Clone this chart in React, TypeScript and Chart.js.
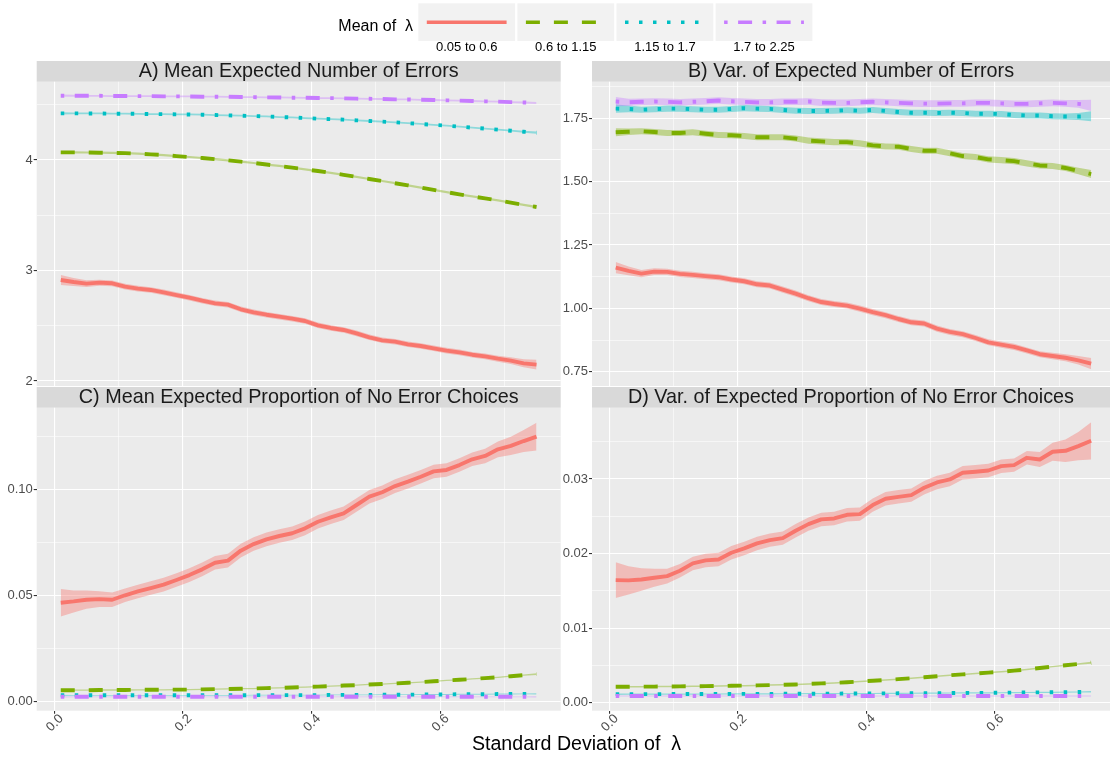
import React, { useEffect, useRef } from "react";
import { Chart, registerables } from "chart.js";

Chart.register(...registerables);

// ---------------- data ----------------
const xSD = [0.01, 0.03, 0.05, 0.07, 0.09, 0.11, 0.13, 0.15, 0.17, 0.19, 0.21, 0.23, 0.25, 0.27, 0.29, 0.31, 0.33, 0.35, 0.37, 0.39, 0.41, 0.43, 0.45, 0.47, 0.49, 0.51, 0.53, 0.55, 0.57, 0.59, 0.61, 0.63, 0.65, 0.67, 0.69, 0.71, 0.73, 0.75];

const groupLabels = ["0.05 to 0.6", "0.6 to 1.15", "1.15 to 1.7", "1.7 to 2.25"];
const legendTitle = "Mean of  λ";
const xAxisTitle = "Standard Deviation of  λ";

const xMajorTicks = [0, 0.2, 0.4, 0.6];
const xMinorTicks = [0.1, 0.3, 0.5, 0.7];
const xTickLabels = ["0.0", "0.2", "0.4", "0.6"];

// A) Mean Expected Number of Errors
const aRed = [2.914, 2.896, 2.881, 2.890, 2.884, 2.854, 2.836, 2.824, 2.802, 2.778, 2.754, 2.727, 2.703, 2.691, 2.649, 2.621, 2.600, 2.582, 2.564, 2.543, 2.504, 2.480, 2.462, 2.431, 2.395, 2.368, 2.356, 2.332, 2.317, 2.296, 2.275, 2.259, 2.238, 2.223, 2.202, 2.184, 2.160, 2.148];
const aGreen = [4.069, 4.069, 4.068, 4.066, 4.065, 4.062, 4.057, 4.051, 4.045, 4.035, 4.027, 4.018, 4.008, 3.997, 3.985, 3.973, 3.959, 3.946, 3.931, 3.916, 3.900, 3.884, 3.866, 3.848, 3.828, 3.810, 3.790, 3.771, 3.750, 3.729, 3.709, 3.689, 3.671, 3.653, 3.635, 3.614, 3.594, 3.575];
const aCyan = [4.422, 4.422, 4.421, 4.421, 4.419, 4.419, 4.418, 4.416, 4.415, 4.413, 4.412, 4.410, 4.407, 4.404, 4.401, 4.398, 4.394, 4.389, 4.385, 4.380, 4.374, 4.370, 4.365, 4.359, 4.353, 4.347, 4.341, 4.333, 4.326, 4.318, 4.311, 4.302, 4.293, 4.284, 4.275, 4.265, 4.256, 4.247];
const aPurple = [4.582, 4.582, 4.581, 4.581, 4.579, 4.579, 4.578, 4.578, 4.576, 4.576, 4.575, 4.573, 4.573, 4.572, 4.570, 4.569, 4.567, 4.566, 4.564, 4.563, 4.561, 4.560, 4.558, 4.555, 4.554, 4.552, 4.549, 4.548, 4.545, 4.543, 4.540, 4.537, 4.534, 4.531, 4.528, 4.524, 4.521, 4.516];
const aRedBand = [0.045, 0.036, 0.030, 0.027, 0.026, 0.025, 0.025, 0.025, 0.025, 0.025, 0.025, 0.025, 0.025, 0.025, 0.025, 0.025, 0.025, 0.025, 0.025, 0.025, 0.025, 0.025, 0.025, 0.025, 0.025, 0.025, 0.025, 0.025, 0.025, 0.025, 0.025, 0.025, 0.025, 0.026, 0.027, 0.030, 0.036, 0.045];
const aGreenBand = [0.012, 0.011, 0.010, 0.010, 0.010, 0.010, 0.010, 0.010, 0.010, 0.010, 0.010, 0.010, 0.010, 0.010, 0.010, 0.010, 0.010, 0.010, 0.010, 0.010, 0.010, 0.010, 0.010, 0.010, 0.010, 0.010, 0.010, 0.010, 0.010, 0.010, 0.010, 0.010, 0.010, 0.010, 0.010, 0.010, 0.011, 0.012];
const aCyanBand = [0.010, 0.009, 0.008, 0.008, 0.008, 0.008, 0.008, 0.008, 0.008, 0.008, 0.008, 0.008, 0.008, 0.008, 0.008, 0.008, 0.008, 0.008, 0.008, 0.008, 0.008, 0.008, 0.008, 0.008, 0.008, 0.008, 0.008, 0.008, 0.008, 0.008, 0.008, 0.008, 0.008, 0.008, 0.008, 0.008, 0.009, 0.010];
const aPurpleBand = [0.010, 0.009, 0.008, 0.008, 0.008, 0.008, 0.008, 0.008, 0.008, 0.008, 0.008, 0.008, 0.008, 0.008, 0.008, 0.008, 0.008, 0.008, 0.008, 0.008, 0.008, 0.008, 0.008, 0.008, 0.008, 0.008, 0.008, 0.008, 0.008, 0.008, 0.008, 0.008, 0.008, 0.008, 0.008, 0.008, 0.009, 0.010];
const aYMajor = [2, 3, 4];
const aYMinor = [2.5, 3.5, 4.5];
const aYLabels = ["2", "3", "4"];

// B) Var. of Expected Number of Errors
const bRed = [1.161, 1.148, 1.137, 1.145, 1.144, 1.136, 1.132, 1.127, 1.123, 1.114, 1.107, 1.095, 1.090, 1.074, 1.058, 1.040, 1.025, 1.017, 1.011, 0.999, 0.985, 0.973, 0.958, 0.945, 0.940, 0.920, 0.907, 0.898, 0.883, 0.866, 0.857, 0.848, 0.834, 0.819, 0.812, 0.805, 0.795, 0.782];
const bGreen = [1.695, 1.697, 1.699, 1.696, 1.692, 1.692, 1.695, 1.689, 1.684, 1.683, 1.680, 1.675, 1.675, 1.675, 1.670, 1.662, 1.659, 1.656, 1.656, 1.651, 1.643, 1.639, 1.638, 1.629, 1.622, 1.622, 1.612, 1.601, 1.597, 1.588, 1.585, 1.581, 1.572, 1.564, 1.562, 1.554, 1.542, 1.530];
const bCyan = [1.788, 1.787, 1.784, 1.786, 1.788, 1.788, 1.786, 1.784, 1.784, 1.787, 1.790, 1.788, 1.787, 1.783, 1.780, 1.779, 1.779, 1.780, 1.782, 1.780, 1.783, 1.779, 1.775, 1.772, 1.772, 1.771, 1.772, 1.771, 1.768, 1.768, 1.767, 1.763, 1.761, 1.761, 1.758, 1.757, 1.757, 1.758];
const bPurple = [1.816, 1.813, 1.815, 1.816, 1.815, 1.813, 1.815, 1.817, 1.820, 1.817, 1.815, 1.813, 1.813, 1.815, 1.815, 1.816, 1.812, 1.811, 1.811, 1.813, 1.815, 1.813, 1.811, 1.809, 1.808, 1.808, 1.809, 1.809, 1.811, 1.811, 1.809, 1.807, 1.807, 1.809, 1.811, 1.809, 1.807, 1.801];
const bRedBand = [0.022, 0.017, 0.014, 0.013, 0.012, 0.012, 0.012, 0.012, 0.012, 0.012, 0.012, 0.012, 0.012, 0.012, 0.012, 0.012, 0.012, 0.012, 0.012, 0.012, 0.012, 0.012, 0.012, 0.012, 0.012, 0.012, 0.012, 0.012, 0.012, 0.012, 0.012, 0.012, 0.012, 0.012, 0.013, 0.014, 0.017, 0.022];
const bGreenBand = [0.016, 0.013, 0.012, 0.012, 0.012, 0.012, 0.012, 0.012, 0.012, 0.012, 0.012, 0.012, 0.012, 0.012, 0.012, 0.012, 0.012, 0.012, 0.012, 0.012, 0.012, 0.012, 0.012, 0.012, 0.012, 0.012, 0.012, 0.012, 0.012, 0.012, 0.012, 0.012, 0.012, 0.012, 0.012, 0.012, 0.013, 0.016];
const bCyanBand = [0.016, 0.013, 0.012, 0.012, 0.012, 0.012, 0.012, 0.012, 0.012, 0.012, 0.012, 0.012, 0.012, 0.012, 0.012, 0.012, 0.012, 0.012, 0.012, 0.012, 0.012, 0.012, 0.012, 0.012, 0.012, 0.012, 0.012, 0.012, 0.012, 0.012, 0.012, 0.012, 0.012, 0.012, 0.012, 0.012, 0.014, 0.020];
const bPurpleBand = [0.018, 0.014, 0.013, 0.013, 0.013, 0.013, 0.013, 0.013, 0.013, 0.013, 0.013, 0.013, 0.013, 0.013, 0.013, 0.013, 0.013, 0.013, 0.013, 0.013, 0.013, 0.013, 0.013, 0.013, 0.013, 0.013, 0.013, 0.013, 0.013, 0.013, 0.013, 0.013, 0.013, 0.013, 0.013, 0.013, 0.015, 0.022];
const bYMajor = [0.75, 1.0, 1.25, 1.5, 1.75];
const bYMinor = [0.875, 1.125, 1.375, 1.625, 1.875];
const bYLabels = ["0.75", "1.00", "1.25", "1.50", "1.75"];

// C) Mean Expected Proportion of No Error Choices
const cRed = [0.0466, 0.0472, 0.0480, 0.0483, 0.0480, 0.0501, 0.0519, 0.0535, 0.0551, 0.0573, 0.0596, 0.0623, 0.0654, 0.0664, 0.0711, 0.0742, 0.0764, 0.0780, 0.0793, 0.0816, 0.0847, 0.0868, 0.0887, 0.0926, 0.0965, 0.0986, 0.1015, 0.1036, 0.1059, 0.1084, 0.1091, 0.1114, 0.1141, 0.1157, 0.1188, 0.1204, 0.1227, 0.1248];
const cGreen = [0.0054, 0.0054, 0.0054, 0.0055, 0.0055, 0.0055, 0.0056, 0.0056, 0.0056, 0.0057, 0.0057, 0.0058, 0.0059, 0.0060, 0.0061, 0.0062, 0.0064, 0.0065, 0.0067, 0.0069, 0.0071, 0.0073, 0.0076, 0.0078, 0.0081, 0.0083, 0.0086, 0.0089, 0.0092, 0.0096, 0.0100, 0.0103, 0.0107, 0.0111, 0.0115, 0.0120, 0.0125, 0.0130];
const cCyan = [0.0030, 0.0030, 0.0030, 0.0030, 0.0030, 0.0030, 0.0030, 0.0030, 0.0030, 0.0030, 0.0030, 0.0030, 0.0030, 0.0030, 0.0030, 0.0031, 0.0031, 0.0031, 0.0031, 0.0031, 0.0031, 0.0032, 0.0032, 0.0032, 0.0032, 0.0033, 0.0033, 0.0033, 0.0034, 0.0034, 0.0034, 0.0035, 0.0035, 0.0035, 0.0036, 0.0036, 0.0037, 0.0037];
const cPurple = [0.0023, 0.0023, 0.0023, 0.0023, 0.0023, 0.0023, 0.0023, 0.0023, 0.0023, 0.0023, 0.0023, 0.0023, 0.0023, 0.0023, 0.0023, 0.0023, 0.0023, 0.0023, 0.0023, 0.0023, 0.0023, 0.0023, 0.0023, 0.0023, 0.0023, 0.0023, 0.0023, 0.0023, 0.0023, 0.0023, 0.0023, 0.0023, 0.0023, 0.0023, 0.0023, 0.0023, 0.0023, 0.0023];
const cRedBand = [0.0065, 0.0052, 0.0043, 0.0037, 0.0034, 0.0032, 0.0032, 0.0032, 0.0032, 0.0032, 0.0032, 0.0032, 0.0032, 0.0032, 0.0032, 0.0032, 0.0032, 0.0032, 0.0032, 0.0032, 0.0032, 0.0032, 0.0032, 0.0032, 0.0032, 0.0032, 0.0032, 0.0032, 0.0032, 0.0032, 0.0032, 0.0032, 0.0032, 0.0034, 0.0037, 0.0043, 0.0052, 0.0065];
const cGreenBand = [0.0004, 0.0003, 0.0003, 0.0003, 0.0003, 0.0003, 0.0003, 0.0003, 0.0003, 0.0003, 0.0003, 0.0003, 0.0003, 0.0003, 0.0003, 0.0003, 0.0003, 0.0003, 0.0003, 0.0003, 0.0003, 0.0003, 0.0003, 0.0003, 0.0003, 0.0003, 0.0003, 0.0003, 0.0003, 0.0003, 0.0003, 0.0003, 0.0003, 0.0003, 0.0003, 0.0003, 0.0003, 0.0004];
const cCyanBand = [0.0003, 0.0002, 0.0002, 0.0002, 0.0002, 0.0002, 0.0002, 0.0002, 0.0002, 0.0002, 0.0002, 0.0002, 0.0002, 0.0002, 0.0002, 0.0002, 0.0002, 0.0002, 0.0002, 0.0002, 0.0002, 0.0002, 0.0002, 0.0002, 0.0002, 0.0002, 0.0002, 0.0002, 0.0002, 0.0002, 0.0002, 0.0002, 0.0002, 0.0002, 0.0002, 0.0002, 0.0002, 0.0003];
const cPurpleBand = [0.0003, 0.0002, 0.0002, 0.0002, 0.0002, 0.0002, 0.0002, 0.0002, 0.0002, 0.0002, 0.0002, 0.0002, 0.0002, 0.0002, 0.0002, 0.0002, 0.0002, 0.0002, 0.0002, 0.0002, 0.0002, 0.0002, 0.0002, 0.0002, 0.0002, 0.0002, 0.0002, 0.0002, 0.0002, 0.0002, 0.0002, 0.0002, 0.0002, 0.0002, 0.0002, 0.0002, 0.0002, 0.0003];
const cYMajor = [0.0, 0.05, 0.1];
const cYMinor = [0.025, 0.075, 0.125];
const cYLabels = ["0.00", "0.05", "0.10"];

// D) Var. of Expected Proportion of No Error Choices
const dRed = [0.01644, 0.01640, 0.01653, 0.01676, 0.01698, 0.01769, 0.01868, 0.01908, 0.01921, 0.02011, 0.02069, 0.02136, 0.02180, 0.02207, 0.02306, 0.02395, 0.02458, 0.02471, 0.02520, 0.02529, 0.02650, 0.02735, 0.02761, 0.02784, 0.02882, 0.02954, 0.02994, 0.03083, 0.03097, 0.03114, 0.03172, 0.03186, 0.03284, 0.03262, 0.03365, 0.03378, 0.03441, 0.03512];
const dGreen = [0.00214, 0.00214, 0.00215, 0.00216, 0.00218, 0.00219, 0.00221, 0.00222, 0.00224, 0.00227, 0.00229, 0.00232, 0.00236, 0.00240, 0.00245, 0.00252, 0.00259, 0.00266, 0.00274, 0.00285, 0.00294, 0.00305, 0.00316, 0.00328, 0.00341, 0.00355, 0.00368, 0.00380, 0.00392, 0.00404, 0.00415, 0.00430, 0.00447, 0.00465, 0.00484, 0.00502, 0.00519, 0.00536];
const dCyan = [0.00115, 0.00115, 0.00115, 0.00115, 0.00116, 0.00116, 0.00116, 0.00117, 0.00117, 0.00118, 0.00118, 0.00119, 0.00119, 0.00120, 0.00120, 0.00121, 0.00121, 0.00122, 0.00123, 0.00123, 0.00124, 0.00125, 0.00126, 0.00127, 0.00128, 0.00129, 0.00130, 0.00131, 0.00132, 0.00133, 0.00134, 0.00136, 0.00137, 0.00139, 0.00140, 0.00142, 0.00144, 0.00147];
const dPurple = [0.00090, 0.00090, 0.00090, 0.00090, 0.00090, 0.00090, 0.00090, 0.00090, 0.00090, 0.00090, 0.00090, 0.00090, 0.00090, 0.00090, 0.00090, 0.00090, 0.00090, 0.00090, 0.00090, 0.00090, 0.00090, 0.00090, 0.00090, 0.00090, 0.00090, 0.00090, 0.00090, 0.00090, 0.00090, 0.00090, 0.00090, 0.00090, 0.00090, 0.00090, 0.00090, 0.00090, 0.00090, 0.00090];
const dRedBand = [0.0024, 0.0019, 0.0015, 0.0012, 0.0010, 0.0009, 0.0009, 0.0009, 0.0009, 0.0009, 0.0009, 0.0009, 0.0009, 0.0009, 0.0009, 0.0009, 0.0009, 0.0009, 0.0009, 0.0009, 0.0009, 0.0009, 0.0009, 0.0009, 0.0009, 0.0009, 0.0009, 0.0009, 0.0009, 0.0009, 0.0009, 0.0009, 0.0009, 0.0010, 0.0012, 0.0015, 0.0019, 0.0025];
const dGreenBand = [0.00012, 0.00010, 0.00010, 0.00010, 0.00010, 0.00010, 0.00010, 0.00010, 0.00010, 0.00010, 0.00010, 0.00010, 0.00010, 0.00010, 0.00010, 0.00010, 0.00010, 0.00010, 0.00010, 0.00010, 0.00010, 0.00010, 0.00010, 0.00010, 0.00010, 0.00010, 0.00010, 0.00010, 0.00010, 0.00010, 0.00010, 0.00010, 0.00010, 0.00010, 0.00010, 0.00010, 0.00010, 0.00012];
const dCyanBand = [0.00010, 0.00008, 0.00008, 0.00008, 0.00008, 0.00008, 0.00008, 0.00008, 0.00008, 0.00008, 0.00008, 0.00008, 0.00008, 0.00008, 0.00008, 0.00008, 0.00008, 0.00008, 0.00008, 0.00008, 0.00008, 0.00008, 0.00008, 0.00008, 0.00008, 0.00008, 0.00008, 0.00008, 0.00008, 0.00008, 0.00008, 0.00008, 0.00008, 0.00008, 0.00008, 0.00008, 0.00008, 0.00010];
const dPurpleBand = [0.00008, 0.00006, 0.00006, 0.00006, 0.00006, 0.00006, 0.00006, 0.00006, 0.00006, 0.00006, 0.00006, 0.00006, 0.00006, 0.00006, 0.00006, 0.00006, 0.00006, 0.00006, 0.00006, 0.00006, 0.00006, 0.00006, 0.00006, 0.00006, 0.00006, 0.00006, 0.00006, 0.00006, 0.00006, 0.00006, 0.00006, 0.00006, 0.00006, 0.00006, 0.00006, 0.00006, 0.00006, 0.00008];
const dYMajor = [0.0, 0.01, 0.02, 0.03];
const dYMinor = [0.005, 0.015, 0.025, 0.035];
const dYLabels = ["0.00", "0.01", "0.02", "0.03"];

// ---------------- style ----------------
const W = 1110;
const H = 758;
const FONT = "'Liberation Sans', Arial, Helvetica, sans-serif";
const colors = ["#F8766D", "#7CAE00", "#00BFC4", "#C77CFF"];
const ribbonColors = ["rgba(248,118,109,0.4)", "rgba(124,174,0,0.4)", "rgba(0,191,196,0.4)", "rgba(199,124,255,0.4)"];
const LW = 3.9;
const DU = 3.5;
const dashes = [[], [4 * DU, 4 * DU], [DU, 3 * DU], [DU, 3 * DU, 4 * DU, 3 * DU]];
const KEY_LW = 3.5;
const keyDashes = [[], [4 * KEY_LW, 4 * KEY_LW], [KEY_LW, 3 * KEY_LW], [KEY_LW, 3 * KEY_LW, 4 * KEY_LW, 3 * KEY_LW]];
const STRIP_H = 20.7;
const Y_AXIS_W = 36.7;
const X_AXIS_H = 40;
const TICK_FONT = 13;
const STRIP_FONT = 19.8;

type PanelDef = {
  title: string;
  series: number[][];
  bands: number[][];
  yMin: number;
  yMax: number;
  yMajor: number[];
  yMinor: number[];
  yLabels: string[];
  xMin: number;
  xMax: number;
  showX: boolean;
  pad: { left: number; top: number; right: number; bottom: number };
  extras: boolean;
};

const panels: PanelDef[] = [
  {
    title: "A) Mean Expected Number of Errors",
    series: [aRed, aGreen, aCyan, aPurple],
    bands: [aRedBand, aGreenBand, aCyanBand, aPurpleBand],
    yMin: 1.9548, yMax: 4.7086,
    yMajor: aYMajor, yMinor: aYMinor, yLabels: aYLabels,
    xMin: -0.0274, xMax: 0.7876, showX: false,
    pad: { left: 0, top: 81.7, right: W - 560.7, bottom: H - 386 },
    extras: false,
  },
  {
    title: "B) Var. of Expected Number of Errors",
    series: [bRed, bGreen, bCyan, bPurple],
    bands: [bRedBand, bGreenBand, bCyanBand, bPurpleBand],
    yMin: 0.6936, yMax: 1.8944,
    yMajor: bYMajor, yMinor: bYMinor, yLabels: bYLabels,
    xMin: -0.0269, xMax: 0.7793, showX: false,
    pad: { left: 592 - Y_AXIS_W, top: 81.7, right: 0, bottom: H - 386 },
    extras: false,
  },
  {
    title: "C) Mean Expected Proportion of No Error Choices",
    series: [cRed, cGreen, cCyan, cPurple],
    bands: [cRedBand, cGreenBand, cCyanBand, cPurpleBand],
    yMin: -0.00424, yMax: 0.1384,
    yMajor: cYMajor, yMinor: cYMinor, yLabels: cYLabels,
    xMin: -0.0274, xMax: 0.7876, showX: true,
    pad: { left: 0, top: 407.7, right: W - 560.7, bottom: H - 710.7 - X_AXIS_H },
    extras: true,
  },
  {
    title: "D) Var. of Expected Proportion of No Error Choices",
    series: [dRed, dGreen, dCyan, dPurple],
    bands: [dRedBand, dGreenBand, dCyanBand, dPurpleBand],
    yMin: -0.00107, yMax: 0.03956,
    yMajor: dYMajor, yMinor: dYMinor, yLabels: dYLabels,
    xMin: -0.0269, xMax: 0.7793, showX: true,
    pad: { left: 592 - Y_AXIS_W, top: 407.7, right: 0, bottom: H - 710.7 - X_AXIS_H },
    extras: false,
  },
];

const near = (a: number, b: number) => Math.abs(a - b) < 1e-9;
const isIn = (v: number, arr: number[]) => arr.some((m) => near(m, v));

const panelDeco = {
  id: "panelDeco",
  beforeDraw(chart: any) {
    const o = chart.options.plugins.panelDeco;
    const a = chart.chartArea;
    const ctx = chart.ctx;
    ctx.save();
    ctx.fillStyle = "#EBEBEB";
    ctx.fillRect(a.left, a.top, a.right - a.left, a.bottom - a.top);
    ctx.fillStyle = "#D9D9D9";
    ctx.fillRect(a.left, a.top - STRIP_H, a.right - a.left, STRIP_H);
    ctx.fillStyle = "#1A1A1A";
    ctx.font = `${STRIP_FONT}px ${FONT}`;
    ctx.textAlign = "center";
    ctx.textBaseline = "middle";
    ctx.fillText(o.title, (a.left + a.right) / 2, a.top - STRIP_H / 2 + 0.5);
    ctx.restore();
  },
};

const figExtras = {
  id: "figExtras",
  afterDraw(chart: any) {
    const o = chart.options.plugins.figExtras;
    if (!o || !o.enabled) return;
    const ctx = chart.ctx;
    ctx.save();
    ctx.fillStyle = "#000000";
    ctx.textBaseline = "middle";
    ctx.textAlign = "center";
    ctx.font = `19.6px ${FONT}`;
    ctx.fillText(xAxisTitle, 576.5, 745);
    ctx.textAlign = "right";
    ctx.font = `16px ${FONT}`;
    ctx.fillText(legendTitle, 413, 27);
    groupLabels.forEach((lab, s) => {
      const bx = 418.3 + s * 99.1;
      const by = 3.3;
      const bw = 96.8;
      const bh = 37.7;
      ctx.fillStyle = "#F2F2F2";
      ctx.fillRect(bx, by, bw, bh);
      ctx.strokeStyle = colors[s];
      ctx.lineWidth = KEY_LW;
      ctx.lineCap = "butt";
      ctx.setLineDash(keyDashes[s]);
      ctx.beginPath();
      ctx.moveTo(bx + 8.5, 22.3);
      ctx.lineTo(bx + bw - 8.5, 22.3);
      ctx.stroke();
      ctx.setLineDash([]);
      ctx.fillStyle = "#000000";
      ctx.font = `13px ${FONT}`;
      ctx.textAlign = "center";
      ctx.fillText(lab, bx + bw / 2, 47.5);
    });
    ctx.restore();
  },
};

function buildConfig(p: PanelDef): any {
  const datasets: any[] = [];
  p.series.forEach((vals, s) => {
    const band = p.bands[s];
    datasets.push({
      data: xSD.map((x, i) => ({ x, y: vals[i] - band[i] })),
      borderWidth: 0, borderColor: "rgba(0,0,0,0)", pointRadius: 0, fill: false, order: 40 - s, tension: 0,
    });
    datasets.push({
      data: xSD.map((x, i) => ({ x, y: vals[i] + band[i] })),
      borderWidth: 0, borderColor: "rgba(0,0,0,0)", pointRadius: 0, fill: "-1",
      backgroundColor: ribbonColors[s], order: 40 - s, tension: 0,
    });
  });
  p.series.forEach((vals, s) => {
    datasets.push({
      data: xSD.map((x, i) => ({ x, y: vals[i] })),
      borderColor: colors[s], borderWidth: LW, borderDash: dashes[s], borderCapStyle: "butt",
      borderJoinStyle: "round", pointRadius: 0, fill: false, order: 10 - s, tension: 0,
    });
  });

  const xAll = [...xMajorTicks, ...xMinorTicks].sort((a, b) => a - b);
  const yAll = [...p.yMajor, ...p.yMinor].sort((a, b) => a - b);

  return {
    type: "line",
    data: { datasets },
    plugins: [panelDeco, figExtras],
    options: {
      responsive: false,
      animation: false,
      devicePixelRatio: 1,
      events: [],
      layout: { padding: p.pad },
      plugins: {
        legend: { display: false },
        tooltip: { enabled: false },
        title: { display: false },
        panelDeco: { title: p.title },
        figExtras: { enabled: p.extras },
      },
      scales: {
        x: {
          type: "linear",
          min: p.xMin,
          max: p.xMax,
          bounds: "data",
          afterBuildTicks: (sc: any) => { sc.ticks = xAll.map((v) => ({ value: v })); },
          afterFit: (sc: any) => { sc.height = p.showX ? X_AXIS_H : 0; sc.paddingLeft = 0; sc.paddingRight = 0; },
          border: { display: false },
          grid: {
            color: "#FFFFFF",
            lineWidth: (c: any) => (isIn(c.tick.value, xMajorTicks) ? 1.1 : 0.55),
            tickColor: (c: any) => (isIn(c.tick.value, xMajorTicks) ? "#333333" : "rgba(0,0,0,0)"),
            tickWidth: 1.1,
            drawTicks: p.showX,
            tickLength: p.showX ? 3 : 0,
          },
          ticks: {
            display: p.showX,
            autoSkip: false,
            minRotation: 45,
            maxRotation: 45,
            padding: -2.5,
            labelOffset: 7,
            color: "#4D4D4D",
            font: { family: FONT, size: TICK_FONT },
            callback: (v: number) => {
              const k = xMajorTicks.findIndex((m) => near(m, v));
              return k >= 0 ? xTickLabels[k] : "";
            },
          },
        },
        y: {
          type: "linear",
          min: p.yMin,
          max: p.yMax,
          bounds: "data",
          afterBuildTicks: (sc: any) => { sc.ticks = yAll.map((v) => ({ value: v })); },
          afterFit: (sc: any) => { sc.width = Y_AXIS_W; sc.paddingTop = 0; sc.paddingBottom = 0; },
          border: { display: false },
          grid: {
            color: "#FFFFFF",
            lineWidth: (c: any) => (isIn(c.tick.value, p.yMajor) ? 1.1 : 0.55),
            tickColor: (c: any) => (isIn(c.tick.value, p.yMajor) ? "#333333" : "rgba(0,0,0,0)"),
            tickWidth: 1.1,
            drawTicks: true,
            tickLength: 3,
          },
          ticks: {
            autoSkip: false,
            padding: 1,
            color: "#4D4D4D",
            font: { family: FONT, size: TICK_FONT },
            callback: (v: number) => {
              const k = p.yMajor.findIndex((m) => near(m, v));
              return k >= 0 ? p.yLabels[k] : "";
            },
          },
        },
      },
    },
  };
}

function PanelCanvas({ panel }: { panel: PanelDef }) {
  const ref = useRef<HTMLCanvasElement | null>(null);
  useEffect(() => {
    if (!ref.current) return;
    const chart = new Chart(ref.current, buildConfig(panel));
    return () => chart.destroy();
  }, [panel]);
  return (
    <canvas
      ref={ref}
      width={W}
      height={H}
      style={{ position: "absolute", left: 0, top: 0, width: W, height: H }}
    />
  );
}

export default function App() {
  return (
    <div style={{ position: "absolute", left: 0, top: 0, width: W, height: H, background: "#FFFFFF", overflow: "hidden" }}>
      {panels.map((p) => (
        <PanelCanvas key={p.title} panel={p} />
      ))}
    </div>
  );
}
